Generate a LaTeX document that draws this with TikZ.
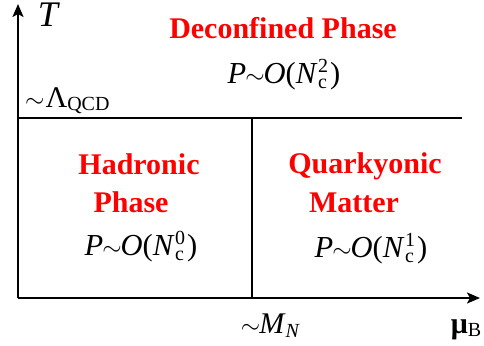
\documentclass[tikz,border=0pt]{standalone}
\usepackage{fontspec}
\setmainfont{Liberation Serif}
\usetikzlibrary{arrows.meta}
\newcommand{\subfs}{\fontsize{20}{20}\selectfont}
\newcommand{\NcPow}[1]{\textit{N}\kern0.5pt\raisebox{-5pt}{\makebox[0pt][l]{\subfs c}}\raisebox{11pt}{\subfs #1}\kern2pt}
\newcommand{\PO}[1]{\textit{P}\kern-1pt$\sim$\kern-1pt\textit{O}(\NcPow{#1})}
\begin{document}
\begin{tikzpicture}[x=1pt,y=-1pt,
  axis/.style={line width=2.2pt, -{Stealth[length=13pt,width=11pt,inset=3pt]}},
  bound/.style={line width=2.2pt},
  redlab/.style={text=red, inner sep=0pt, anchor=base, font=\fontsize{30}{33}\selectfont\bfseries},
  formula/.style={inner sep=0pt, anchor=base, font=\fontsize{30.5}{33}\selectfont},
  axlab/.style={inner sep=0pt, font=\fontsize{30}{33}\selectfont}]
\useasboundingbox (0,0) rectangle (484,345);
\coordinate (O) at (18,298);
\coordinate (ytop) at (18,4);
\coordinate (xend) at (480,298);
\coordinate (hl) at (18,118);
\coordinate (hr) at (462,118);
\coordinate (vt) at (252,118);
\coordinate (vb) at (252,298);
\draw[axis] (O) -- (ytop);
\draw[axis] (O) -- (xend);
\draw[bound] (hl) -- (hr);
\draw[bound] (vt) -- (vb);
\node[axlab, anchor=base, font=\fontsize{36}{38}\selectfont\itshape] (T) at (48,27) {T};
\node[axlab, anchor=base west] (lam) at (25,107) {$\sim$\kern1pt Λ\raisebox{-3pt}{\subfs QCD}};
\node[axlab, anchor=base] (MN) at (270,333) {$\sim$\kern-1pt\textit{M}\raisebox{-4pt}{\subfs\itshape N}};
\node[axlab, anchor=base] (mu) at (466,333) {\textbf{μ}\raisebox{-3pt}{\subfs B}};
\node[redlab] (dec) at (283,38) {Deconfined Phase};
\node[formula] (pdec) at (284,83) {\PO{2}};
\node[redlab] (had1) at (139,174) {Hadronic};
\node[redlab] (had2) at (131,212) {Phase};
\node[formula] (phad) at (141,255) {\PO{0}};
\node[redlab] (qua1) at (365,173) {Quarkyonic};
\node[redlab] (qua2) at (354,212) {Matter};
\node[formula] (pqua) at (371,257) {\PO{1}};
\end{tikzpicture}
\end{document}
